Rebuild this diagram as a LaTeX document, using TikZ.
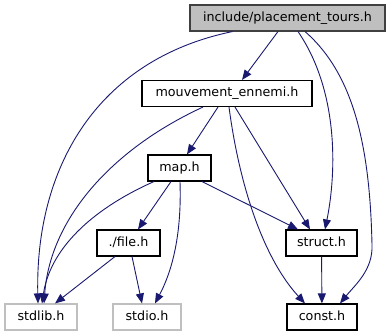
\documentclass[tikz,border=0pt]{standalone}
\usepackage{xcolor}
\usepackage{fontspec}
\setmainfont{DejaVu Sans}
\usepackage{tikz}
\usetikzlibrary{arrows.meta}

\definecolor{edgeblue}{HTML}{191970}
\definecolor{rootgray}{HTML}{BFBFBF}
\definecolor{sysgray}{HTML}{BFBFBF}

\begin{document}
\begin{tikzpicture}[x=1pt, y=-1pt, font=\fontsize{12.7}{15}\selectfont,
    hdr/.style={draw=black, line width=1.1pt, inner sep=0pt, minimum height=26pt,
      text height=9.5pt, text depth=3pt},
    roothdr/.style={hdr, fill=rootgray, draw=black!75},
    syshdr/.style={hdr, draw=sysgray},
    dep/.style={draw=edgeblue, line width=0.9pt, -{Triangle[length=10pt,width=8pt]}}]
    \useasboundingbox (0,0) rectangle (391,336);

    \node[roothdr, minimum width=195pt] (top)    at (287.5,18)  {include/placement\_tours.h};
    \node[hdr,     minimum width=170pt] (mouv)   at (227,93.5)  {mouvement\_ennemi.h};
    \node[hdr,     minimum width=63pt]  (map)    at (179.5,168) {map.h};
    \node[hdr,     minimum width=63pt]  (file)   at (128.5,243) {./file.h};
    \node[hdr,     minimum width=71pt]  (struct) at (321.5,243) {struct.h};
    \node[syshdr,  minimum width=72pt]  (stdlib) at (41,317)    {stdlib.h};
    \node[syshdr,  minimum width=68pt]  (stdio)  at (147,317)   {stdio.h};
    \node[hdr,     minimum width=70pt]  (const)  at (322,317)   {const.h};

    \draw[dep] ([xshift=-55pt]top.south) .. controls (95,60) and (35,170) .. ([xshift=-3pt]stdlib.north);
    \draw[dep] ([xshift=-9.5pt]top.south) -- ([xshift=15pt]mouv.north);
    \draw[dep] ([xshift=10.5pt]top.south) .. controls (338,90) and (337,170) .. ([xshift=3.5pt]struct.north);
    \draw[dep] ([xshift=17.5pt]top.south) .. controls (355,75) and (370,150) .. (372,245)
               .. controls (373,270) and (355,285) .. ([xshift=18pt]const.north);

    \draw[dep] ([xshift=-24pt]mouv.south) .. controls (110,150) and (50,220) .. ([xshift=3pt]stdlib.north);
    \draw[dep] ([xshift=-9pt]mouv.south) -- ([xshift=7.5pt]map.north);
    \draw[dep] ([xshift=8pt]mouv.south) -- ([xshift=-11.5pt]struct.north);
    \draw[dep] ([xshift=2pt]mouv.south) .. controls (240,190) and (265,260) .. ([xshift=-17pt]const.north);

    \draw[dep] ([xshift=-25.5pt]map.south) .. controls (90,210) and (50,250) .. ([xshift=1pt]stdlib.north);
    \draw[dep] ([xshift=-8.5pt]map.south) -- ([xshift=9.5pt]file.north);
    \draw[dep] ([xshift=0.5pt]map.south) .. controls (182,240) and (170,275) .. ([xshift=8pt]stdio.north);
    \draw[dep] ([xshift=22.5pt]map.south) -- ([xshift=-23.5pt]struct.north);

    \draw[dep] ([xshift=-13.5pt]file.south) -- ([xshift=14pt]stdlib.north);
    \draw[dep] ([xshift=3.5pt]file.south) -- ([xshift=-5pt]stdio.north);

    \draw[dep] (struct) -- (const);
\end{tikzpicture}
\end{document}
